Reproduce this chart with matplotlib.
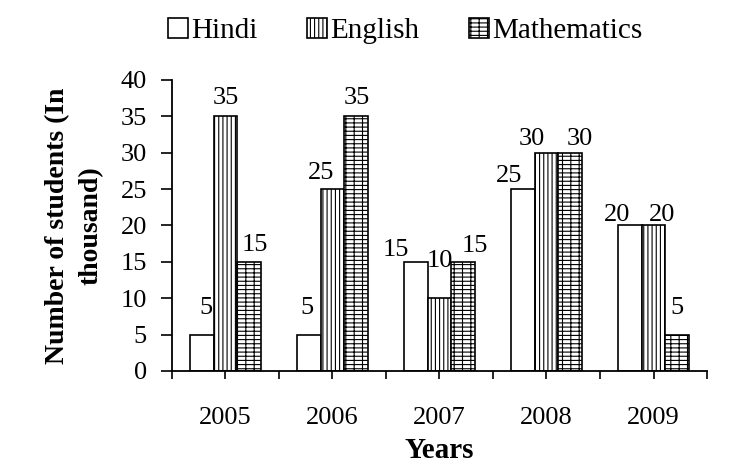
import numpy as np
import matplotlib.pyplot as plt
from matplotlib.patches import Patch

# data (thousands of students)
years = ['2005', '2006', '2007', '2008', '2009']
subjects = ['Hindi', 'English', 'Mathematics']
hindi = [5, 5, 15, 25, 20]
english = [35, 25, 10, 30, 20]
maths = [15, 35, 15, 30, 5]
y_ticks = [0, 5, 10, 15, 20, 25, 30, 35, 40]

# nudges of the value labels (pixels), as placed in the source
label_dx = [[4, -2, -20, -13, -12],
            [0, -11, 0, -15, 9],
            [5, 0, 11, 9, -1]]
label_gap = [[20, 20, 5, 6, 3],
             [11, 9, 30, 7, 3],
             [10, 11, 9, 7, 20]]

plt.rcParams['font.family'] = ['Liberation Serif', 'DejaVu Serif']
plt.rcParams['hatch.linewidth'] = 0.8

fig = plt.figure(figsize=(7.3, 4.66), dpi=100)
ax = fig.add_axes([0.2356, 0.2039, 0.7329, 0.6245])

x = np.arange(len(years))
w = 0.224
series = [hindi, english, maths]
hatches = ['', '||||', '++--']

for i, (vals, h) in enumerate(zip(series, hatches)):
    bars = ax.bar(x + (i - 1) * w, vals, w, color='white', edgecolor='black',
                  linewidth=1.2, hatch=h, label=subjects[i])
    for b, v, dx, gap in zip(bars, vals, label_dx[i], label_gap[i]):
        ax.annotate(str(v), (b.get_x() + b.get_width() / 2, v),
                    xytext=(dx * 0.72, (gap - 4) * 0.72),
                    textcoords='offset points',
                    ha='center', va='bottom', fontsize=19)

ax.set_xlim(-0.5, 4.5)
ax.set_ylim(0, 40)
ax.set_yticks(y_ticks)
ax.set_xticks(x)
ax.set_xticklabels(years)
ax.set_xticks(np.arange(-0.5, 5, 1), minor=True)

ax.spines['top'].set_visible(False)
ax.spines['right'].set_visible(False)
ax.spines['left'].set_linewidth(1.3)
ax.spines['bottom'].set_linewidth(1.3)

ax.tick_params(axis='y', direction='out', length=8, width=1.2, pad=10, labelsize=19)
ax.tick_params(axis='x', which='both', direction='out', length=6, width=1.2)
ax.tick_params(axis='x', which='major', pad=20, labelsize=19)

ax.set_xlabel('Years', fontsize=21, fontweight='bold', labelpad=6)
ax.set_ylabel('Number of students (In\nthousand)', fontsize=20,
              fontweight='bold', linespacing=1.45, labelpad=12)

handles = [Patch(facecolor='white', edgecolor='black', hatch=h, linewidth=1.2)
           for h in hatches]
fig.legend(handles, subjects, loc='center', bbox_to_anchor=(0.555, 0.933),
           ncol=3, frameon=False, fontsize=21, handlelength=0.7,
           handleheight=0.7, handletextpad=0.1, columnspacing=1.7)

fig.savefig('out.png', dpi=100)
